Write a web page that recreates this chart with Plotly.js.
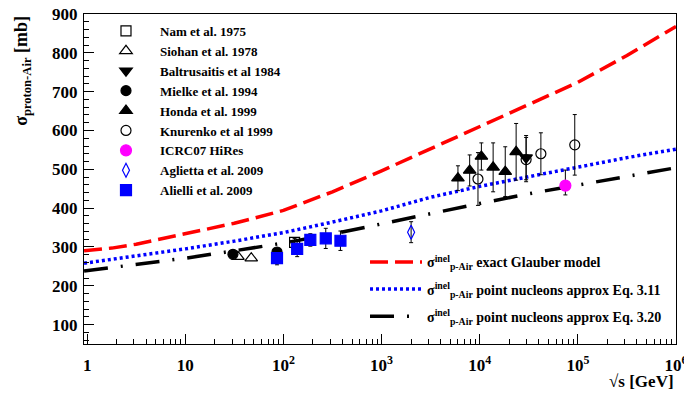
<!DOCTYPE html>
<html><head><meta charset="utf-8">
<script src="https://cdn.plot.ly/plotly-3.0.1.min.js"></script>
<style>body{margin:0;background:#fff}#c{width:684px;height:394px}</style>
</head><body><div id="c"></div>
<script>
// ---- model curves (sqrt(s) in GeV, sigma in mb) ----
const glauberX = [0.93, 1.78, 3.16, 5.62, 10, 31.6, 100, 224, 316, 1000, 3162, 10000, 31623, 100000, 316228, 1000000];
const glauberY = [290, 297, 307, 320, 334, 361, 394, 427, 442, 496, 553, 610, 666, 724, 793, 868];
const approxX = [0.93, 3.16, 10, 31.6, 100, 316, 1000, 3162, 10000, 31623, 100000, 316228, 1000000];
const eq311Y = [258, 276, 295, 315, 337, 364, 393, 428, 456, 481, 506, 530, 552];
const eq320Y = [238, 254, 271, 290, 310, 333, 360, 386, 412, 437, 460, 482, 504];

// ---- measurements ----
const namX = [130], namY = [312], namErr = [10];
const siohanX = [34.4, 47], siohanY = [275, 271];
const baltX = [29700], baltY = [530], baltErr = [57];
const mielkeX = [30.6, 86], mielkeY = [281, 287];
const hondaX = [6000, 7900, 10400, 13700, 18200, 23500];
const hondaY = [477, 497, 533, 505, 494, 545];
const hondaErr = [32, 40, 35, 63, 64, 73];
const knurX = [9600, 29700, 42000, 93000];
const knurY = [475, 525, 540, 563];
const knurErr = [68, 57, 54, 78];
const hiresX = [74600], hiresY = [458], hiresPlus = [40], hiresMinus = [24];
const agliX = [2000], agliY = [338], agliErr = [27];
const aielliX = [86, 138, 188, 270, 381];
const aielliY = [271, 295, 318, 322, 316];
const aielliErr = [17, 20, 16, 26, 25];

const xTickVals = [1, 10, 100, 1000, 10000, 100000, 1000000];
const xTickText = ['1', '10', '10<sup>2</sup>', '10<sup>3</sup>', '10<sup>4</sup>', '10<sup>5</sup>', '10<sup>6</sup>'];

const serif = 'Liberation Serif, Times New Roman, serif';
function eb(arr, minus) {
  const o = {type: 'data', array: arr, color: 'black', thickness: 1, width: 2, visible: true};
  if (minus) { o.symmetric = false; o.arrayminus = minus; }
  return o;
}
function pts(name, x, y, symbol, color, size, err) {
  const t = {type: 'scatter', mode: 'markers', name: name, x: x, y: y,
    marker: {symbol: symbol, color: color, size: size, line: {color: color, width: 1.2}},
    legend: 'legend'};
  if (err) t.error_y = err;
  return t;
}
const sig = 'σ<sup>inel</sup><sub>p-Air</sub> ';
const traces = [
  {type: 'scatter', mode: 'lines', x: glauberX, y: glauberY, name: sig + 'exact Glauber model',
   line: {color: '#ff0000', width: 3.5, dash: '18px,7px'}, legend: 'legend2', legendgroup: 'g1'},
  {type: 'scatter', mode: 'lines', x: approxX, y: eq311Y, name: sig + 'point nucleons approx Eq. 3.11',
   line: {color: '#0000ff', width: 3.5, dash: '3px,3px'}, legend: 'legend2', legendgroup: 'g2'},
  {type: 'scatter', mode: 'lines', x: approxX, y: eq320Y, name: sig + 'point nucleons approx Eq. 3.20',
   line: {color: '#000000', width: 3.5, dash: '24px,13px,2px,13px'}, legend: 'legend2', legendgroup: 'g3'},
  pts('Nam et al. 1975', namX, namY, 'square-open', 'black', 10, eb(namErr)),
  pts('Siohan et al. 1978', siohanX, siohanY, 'triangle-up-open', 'black', 11),
  pts('Baltrusaitis et al 1984', baltX, baltY, 'triangle-down', 'black', 11, eb(baltErr)),
  pts('Mielke et al. 1994', mielkeX, mielkeY, 'circle', 'black', 10),
  pts('Honda et al. 1999', hondaX, hondaY, 'triangle-up', 'black', 11, eb(hondaErr)),
  pts('Knurenko et al 1999', knurX, knurY, 'circle-open', 'black', 10, eb(knurErr)),
  pts('ICRC07 HiRes', hiresX, hiresY, 'circle', '#ff00ff', 11, eb(hiresPlus, hiresMinus)),
  pts('Aglietta et al. 2009', agliX, agliY, 'diamond-tall-open', '#0000ff', 10, eb(agliErr)),
  pts('Alielli et al. 2009', aielliX, aielliY, 'square', '#0000ff', 11, eb(aielliErr))
];

const layout = {
  width: 684, height: 394,
  margin: {l: 84, r: 8, t: 14, b: 50},
  paper_bgcolor: '#fff', plot_bgcolor: '#fff',
  font: {family: serif, color: 'black', size: 14, weight: 'bold'},
  showlegend: true,
  xaxis: {
    type: 'log', range: [-0.032, 6], showgrid: false, zeroline: false,
    showline: true, mirror: true, linecolor: 'black', linewidth: 1,
    ticks: 'inside', ticklen: 10, tickcolor: 'black',
    tickvals: xTickVals, ticktext: xTickText, ticklabeloverflow: 'allow',
    tickfont: {family: serif, size: 17, weight: 'bold'}, ticklabelstandoff: 6,
    minor: {ticks: 'inside', ticklen: 5, dtick: 'D1', tickcolor: 'black', showgrid: false}
  },
  yaxis: {
    range: [50, 900], showgrid: false, zeroline: false,
    showline: true, mirror: true, linecolor: 'black', linewidth: 1,
    ticks: 'inside', ticklen: 10, tickcolor: 'black',
    tickvals: [100, 200, 300, 400, 500, 600, 700, 800, 900],
    tickfont: {family: serif, size: 17, weight: 'bold'}, ticklabelstandoff: 2,
    minor: {ticks: 'inside', ticklen: 5, dtick: 20, tickcolor: 'black', showgrid: false}
  },
  legend: {
    x: 0.0135, y: 0.994, xanchor: 'left', yanchor: 'top',
    bgcolor: 'rgba(0,0,0,0)', borderwidth: 0, itemwidth: 58,
    font: {family: serif, size: 13, weight: 'bold'}, tracegroupgap: 0
  },
  legend2: {
    x: 0.4747, y: 0.296, xanchor: 'left', yanchor: 'top',
    bgcolor: 'rgba(0,0,0,0)', borderwidth: 0, itemwidth: 52,
    font: {family: serif, size: 14, weight: 'bold'}, tracegroupgap: 6
  },
  annotations: [
    {xref: 'paper', yref: 'paper', x: -0.105, y: 1.0, xanchor: 'center', yanchor: 'top',
     textangle: -90, showarrow: false,
     text: 'σ<sub>proton-Air</sub> [mb]', font: {family: serif, size: 18, weight: 'bold'}},
    {xref: 'paper', yref: 'paper', x: 0.8834, y: -0.115, xanchor: 'left', yanchor: 'middle',
     showarrow: false, text: '√s [GeV]', font: {family: serif, size: 17, weight: 'bold'}}
  ]
};
Plotly.newPlot('c', traces, layout, {displayModeBar: false, staticPlot: true});
</script>
</body></html>
